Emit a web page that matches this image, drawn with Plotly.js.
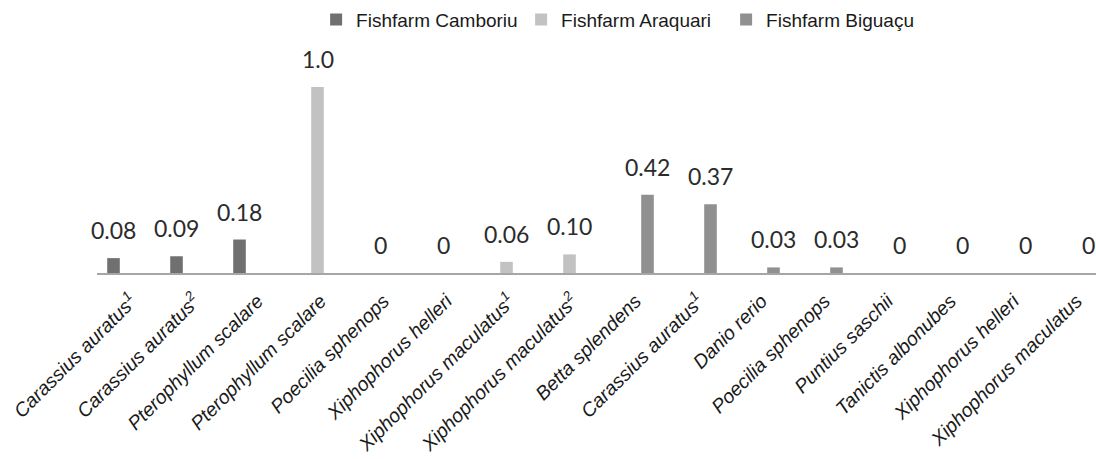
<!DOCTYPE html>
<html>
<head>
<meta charset="utf-8">
<script src="https://cdn.plot.ly/plotly-3.0.1.min.js"></script>
<style>
html,body{margin:0;padding:0;background:#fff;}
#chart{width:1096px;height:459px;}
</style>
</head>
<body>
<div id="chart"></div>
<script>
// ---- data ----
var categories = [
  "Carassius auratus<sup>1</sup>",
  "Carassius auratus<sup>2</sup>",
  "Pterophyllum scalare",
  "Pterophyllum scalare",
  "Poecilia sphenops",
  "Xiphophorus helleri",
  "Xiphophorus maculatus<sup>1</sup>",
  "Xiphophorus maculatus<sup>2</sup>",
  "Betta splendens",
  "Carassius auratus<sup>1</sup>",
  "Danio rerio",
  "Poecilia sphenops",
  "Puntius saschii",
  "Tanictis albonubes",
  "Xiphophorus helleri",
  "Xiphophorus maculatus"
];
var seriesNames = ["Fishfarm Camboriu", "Fishfarm Araquari", "Fishfarm Biguaçu"];
var camboriu = [0.08, 0.09, 0.18, null, null, null, null, null, null, null, null, null, null, null, null, null];
var araquari = [null, null, null, 1.0, 0, 0, 0.06, 0.10, null, null, null, null, null, null, null, null];
var biguacu  = [null, null, null, null, null, null, null, null, 0.42, 0.37, 0.03, 0.03, 0, 0, 0, 0];
var valueLabels = ["0.08", "0.09", "0.18", "1.0", "0", "0", "0.06", "0.10", "0.42", "0.37", "0.03", "0.03", "0", "0", "0", "0"];

// ---- styles ----
var colors = ["#707070", "#c2c2c2", "#909090"];
var seriesShift = [-15, 0, 15];
var allSeries = [camboriu, araquari, biguacu];
var idx = categories.map(function (_, i) { return i; });

var traces = allSeries.map(function (vals, s) {
  return {
    type: "bar",
    name: seriesNames[s],
    x: idx,
    y: vals,
    marker: { color: colors[s] },
    hoverinfo: "skip"
  };
});

var annotations = [];
allSeries.forEach(function (vals, s) {
  vals.forEach(function (v, i) {
    if (v === null) return;
    annotations.push({
      xref: "x", yref: "y", x: i, y: v,
      xshift: seriesShift[s], yshift: 28,
      yanchor: "middle", xanchor: "center",
      text: valueLabels[i], showarrow: false,
      font: { family: "Lato, 'Open Sans', sans-serif", size: 23, color: "#2b2b2b" }
    });
  });
});

var layout = {
  width: 1096, height: 459,
  margin: { l: 97, r: 0, t: 60, b: 186, pad: 0 },
  paper_bgcolor: "#ffffff", plot_bgcolor: "#ffffff",
  barmode: "group", bargap: 0.286, bargroupgap: 0.16,
  showlegend: true,
  legend: {
    orientation: "h", xref: "container", yref: "container",
    x: 0.569, xanchor: "center", y: 0.957, yanchor: "middle",
    font: { family: "'Liberation Sans', Arial, sans-serif", size: 19, color: "#1a1a1a" },
    itemwidth: 30, traceorder: "normal",
    entrywidth: 160, entrywidthmode: "pixels"
  },
  xaxis: {
    range: [-0.5, 15.357],
    tickmode: "array", tickvals: idx, ticktext: categories,
    tickangle: -45,
    ticklabeloverflow: "allow",
    ticklabelstandoff: 7,
    ticklabelshift: 3,
    tickfont: { family: "'Liberation Sans', Arial, sans-serif", size: 19.5, color: "#1a1a1a", style: "italic" },
    showline: true, linecolor: "#a6a6a6", linewidth: 2,
    ticks: "", showgrid: false, zeroline: false, fixedrange: true
  },
  yaxis: {
    range: [0, 1.145],
    visible: false, showgrid: false, zeroline: false, fixedrange: true
  },
  annotations: annotations
};

Plotly.newPlot("chart", traces, layout, { displayModeBar: false, staticPlot: true });
</script>
</body>
</html>
